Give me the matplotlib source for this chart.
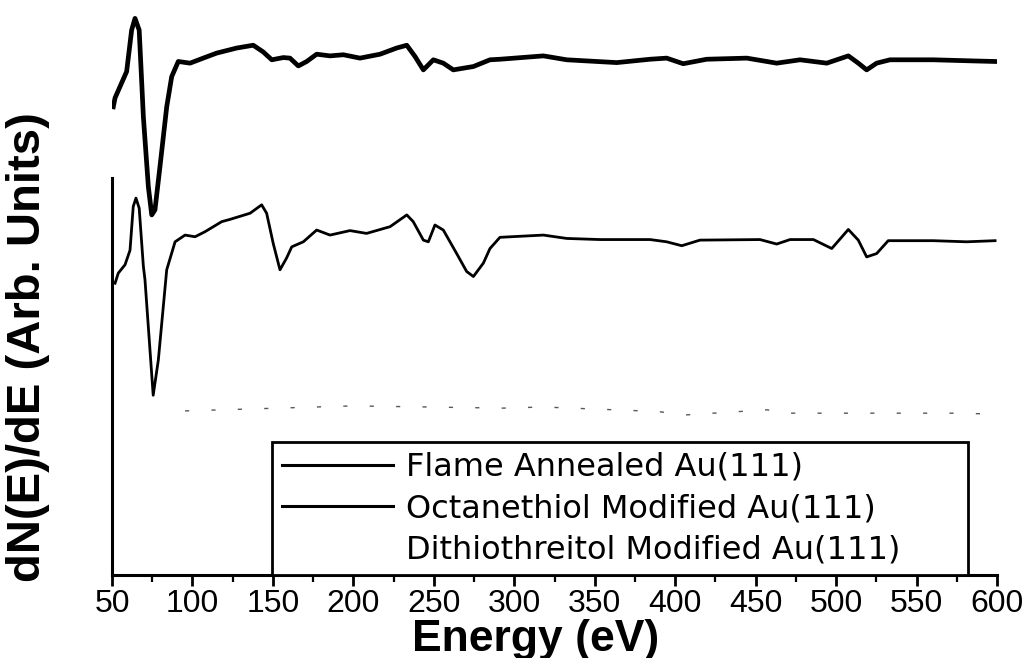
import matplotlib
matplotlib.use("Agg")
import matplotlib.pyplot as plt
from matplotlib.ticker import MultipleLocator

# ---- data (Energy in eV, signal in arbitrary units) ----
flame_E = [50.8, 51.9, 56.8, 59.1, 62.2, 64.3, 66.9, 69.5, 72.6, 74.7, 76.7, 79.8,
           84.0, 87.1, 91.2, 98.5, 106.7, 115.1, 127.5, 137.8, 144.0, 149.3, 156.5,
           160.6, 165.8, 171.0, 177.2, 185.5, 193.8, 204.1, 216.6, 226.9, 233.2,
           238.3, 243.5, 249.7, 255.9, 262.1, 274.6, 284.9, 291.1, 318.1, 332.6,
           363.7, 384.4, 394.7, 405.0, 419.6, 444.5, 463.1, 477.6, 494.2, 507.6,
           513.8, 519.0, 525.2, 533.5, 560.4, 585.3, 598.8]
flame_I = [83.6, 85.2, 88.4, 89.9, 97.3, 99.4, 97.3, 81.8, 69.3, 64.3, 65.2, 72.9,
           83.6, 89.0, 91.7, 91.4, 92.3, 93.2, 94.1, 94.6, 93.4, 92.0, 92.4,
           92.3, 90.9, 91.7, 93.0, 92.7, 92.9, 92.3, 93.0, 94.1, 94.6,
           92.6, 90.2, 92.0, 91.4, 90.2, 90.8, 92.0, 92.1, 92.7, 92.0,
           91.5, 92.1, 92.3, 91.3, 92.1, 92.3, 91.4, 92.0, 91.4, 92.7,
           91.4, 90.2, 91.4, 92.0, 92.0, 91.8, 91.7]

octane_E = [51.9, 53.9, 58.1, 61.2, 63.2, 64.9, 66.9, 69.5, 70.5, 75.6, 78.8, 84.0,
            89.2, 95.4, 101.6, 107.8, 118.2, 123.3, 135.8, 143.0, 146.1, 150.2,
            154.4, 158.5, 161.7, 168.9, 177.2, 185.5, 197.9, 208.2, 222.8, 233.2,
            237.2, 243.5, 246.6, 250.7, 255.9, 264.2, 270.4, 274.6, 280.8, 284.9,
            291.1, 318.1, 332.6, 353.3, 384.4, 394.7, 404.1, 415.4, 452.7, 463.1,
            471.4, 485.9, 497.3, 507.6, 513.8, 519.0, 525.2, 532.4, 560.4, 581.1,
            598.8]
octane_I = [52.1, 53.9, 55.4, 58.0, 65.8, 67.3, 65.5, 55.1, 52.7, 32.1, 38.4, 54.5,
            59.5, 60.7, 60.4, 61.3, 63.1, 63.5, 64.6, 66.1, 64.6, 59.2,
            54.5, 56.6, 58.6, 59.5, 61.6, 60.7, 61.5, 61.0, 62.2, 64.3,
            63.1, 59.8, 59.5, 62.5, 61.6, 57.4, 54.2, 53.3, 55.7, 58.3,
            60.3, 60.7, 60.1, 59.9, 59.9, 59.5, 58.8, 59.8, 59.9, 59.1,
            59.9, 59.9, 58.3, 61.7, 59.8, 56.8, 57.4, 59.7, 59.7, 59.5,
            59.7]

dtt_E = [95.4, 199.8, 293.0, 317.9, 388.7, 407.3, 457.1, 467.0, 570.8, 589.5]
dtt_I = [29.3, 30.2, 29.8, 30.0, 29.2, 28.6, 29.5, 28.9, 28.9, 28.8]

labels = ["Flame Annealed Au(111)",
          "Octanethiol Modified Au(111)",
          "Dithiothreitol Modified Au(111)"]
xticks = list(range(50, 601, 50))

# ---- figure ----
fig = plt.figure(figsize=(10.3, 6.58), dpi=100)
ax = fig.add_axes([112/1030, 1-575/658, 885/1030, 560/658])

ax.plot(flame_E, flame_I, color="black", lw=3.4, solid_joinstyle="round",
        label=labels[0])
ax.plot(octane_E, octane_I, color="black", lw=2.0, solid_joinstyle="round",
        label=labels[1])
ax.plot(dtt_E, dtt_I, color="0.35", lw=1.0, linestyle=(0, (3, 16)),
        label=labels[2])

ax.set_xlim(50, 600)
ax.set_ylim(0, 100)

for s in ("top", "right"):
    ax.spines[s].set_visible(False)
ax.spines["left"].set_bounds(0, 70.9)
ax.spines["left"].set_linewidth(2.2)
ax.spines["bottom"].set_linewidth(2.2)

ax.set_yticks([])
ax.set_xticks(xticks)
ax.xaxis.set_minor_locator(MultipleLocator(25))
ax.tick_params(axis="x", which="major", direction="out", length=8, width=2,
               pad=2, labelsize=23)
ax.tick_params(axis="x", which="minor", direction="out", length=5, width=1.6)
for lab in ax.get_xticklabels():
    lab.set_family(["Liberation Sans", "DejaVu Sans"])

ax.set_xlabel("Energy (eV)", fontsize=32, fontweight="bold",
              family=["Liberation Sans", "DejaVu Sans"], va="baseline")
ax.xaxis.set_label_coords((536-112)/885, (575-651)/560)
ax.set_ylabel("dN(E)/dE (Arb. Units)", fontsize=34, fontweight="bold",
              family=["Liberation Sans", "DejaVu Sans"], va="center")
ax.yaxis.set_label_coords((28-112)/885, (575-347)/560)

leg = ax.legend(loc="lower left", bbox_to_anchor=(160/885, 0, 696/885, 132/560),
                mode="expand", borderaxespad=0,
                prop={"family": ["DejaVu Sans"], "size": 23},
                handlelength=3.5, handletextpad=0.4, labelspacing=0.32,
                borderpad=0.3, fancybox=False, framealpha=1, edgecolor="black")
leg.get_frame().set_linewidth(2)
for ln in leg.get_lines():
    ln.set_linewidth(2.2)
leg.get_lines()[2].set_visible(False)

fig.savefig("out.png", dpi=100)
